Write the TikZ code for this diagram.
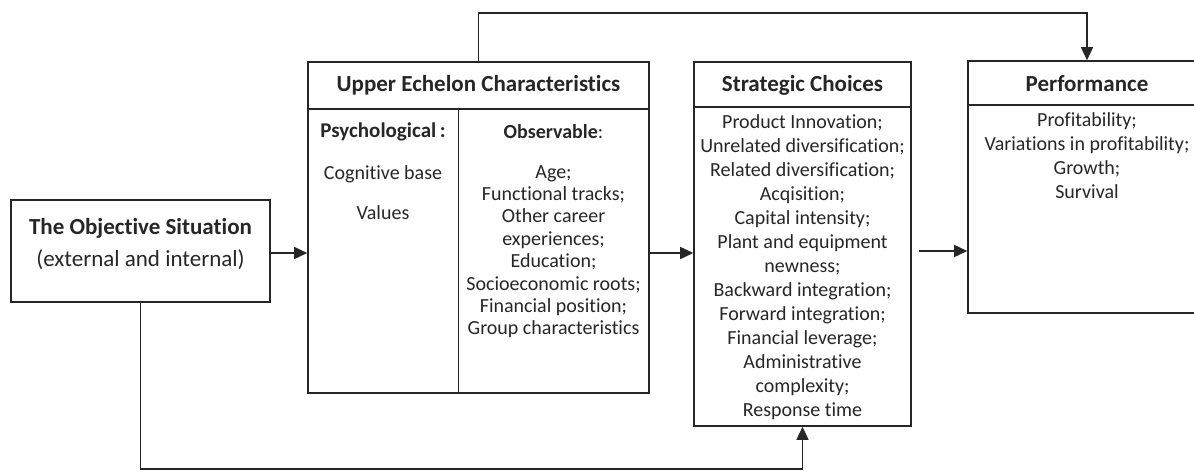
\documentclass[tikz,border=0pt]{standalone}
\usepackage{fontspec}
\setmainfont{Carlito}[RawFeature=-liga]
\usepackage{xcolor}
\usepackage{tikz}
\usetikzlibrary{positioning,calc,arrows.meta}
\definecolor{ink}{HTML}{262626}

\begin{document}
\begin{tikzpicture}[x=1pt,y=-1pt,
    box/.style={draw=ink,line width=1.6pt,rectangle,inner sep=0pt},
    title/.style={font=\fontsize{23}{27}\selectfont\bfseries,text=ink,inner sep=0pt},
    items/.style={font=\fontsize{20}{24}\selectfont,text=ink,align=center,inner sep=0pt,anchor=north},
    link/.style={draw=ink,line width=1.6pt},
    arr/.style={link,-{Triangle[length=13pt,width=12pt]}}]
    \useasboundingbox (0,0) rectangle (1194,472);

    % The boxes
    \node[box,minimum width=259pt,minimum height=102pt] (obj) at (140.5,251) {};
    \node[box,minimum width=341pt,minimum height=331pt] (uec) at (478.5,227.5) {};
    \node[box,minimum width=217pt,minimum height=364pt] (sc) at (802.5,244) {};
    \node[box,minimum width=238pt,minimum height=252pt] (perf) at (1087,187) {};

    % Header rules and the column divider
    \draw[link] (uec.west |- 0,109) -- (uec.east |- 0,109);
    \draw[link] (sc.west |- 0,107) -- (sc.east |- 0,107);
    \draw[link] (perf.west |- 0,105) -- (perf.east |- 0,105);
    \coordinate (divtop) at (458.5,109);
    \draw[link] (divtop) -- (divtop |- uec.south);

    % Objective situation
    \node[title] (objtitle) at (140.5,228) {The Objective Situation};
    \node[font=\fontsize{23}{27}\selectfont,text=ink,inner sep=0pt] (objsub) at (140.5,260) {(external and internal)};

    % Upper echelon characteristics
    \node[title] (uectitle) at (478.5,85) {Upper Echelon Characteristics};
    \node[font=\fontsize{21}{24}\selectfont\bfseries,text=ink,inner sep=0pt] (psych) at (383,132) {Psychological\,:};
    \node[items,font=\fontsize{20}{40}\selectfont] (psychlist) at (383,165) {Cognitive base\\Values};
    \node[font=\fontsize{20}{24}\selectfont,text=ink,inner sep=0pt] (obs) at (553.5,132) {\textbf{Observable}:};
    \node[items,font=\fontsize{20}{22.4}\selectfont] (obslist) at (553.5,165) {Age;\\Functional tracks;\\Other career\\experiences;\\Education;\\Socioeconomic roots;\\Financial position;\\Group characteristics};

    % Strategic choices
    \node[title] (sctitle) at (802.5,85) {Strategic Choices};
    \node[items] (sclist) at (802.5,114) {Product Innovation;\\Unrelated diversification;\\Related diversification;\\Acqisition;\\Capital intensity;\\Plant and equipment\\newness;\\Backward integration;\\Forward integration;\\Financial leverage;\\Administrative\\complexity;\\Response time};

    % Performance
    \node[title] (perftitle) at (1087,84) {Performance};
    \node[items] (perflist) at (1087,112) {Profitability;\\Variations in profitability;\\Growth;\\Survival};

    % Connectors
    \draw[arr] (obj.east |- 0,253) -- (uec.west |- 0,253);
    \draw[arr] (uec.east |- 0,253) -- (sc.west |- 0,253);
    \draw[arr] ([xshift=7pt]sc.east |- 0,251) -- (perf.west |- 0,251);
    \coordinate (topleft) at (uec.north |- 0,13);
    \coordinate (topright) at (perf.north |- 0,13);
    \draw[arr] (uec.north) -- (topleft) -- (topright) -- (perf.north);
    \coordinate (botleft) at (obj.south |- 0,469);
    \coordinate (botright) at (sc.south |- 0,469);
    \draw[arr] (obj.south) -- (botleft) -- (botright) -- (sc.south);
\end{tikzpicture}
\end{document}
